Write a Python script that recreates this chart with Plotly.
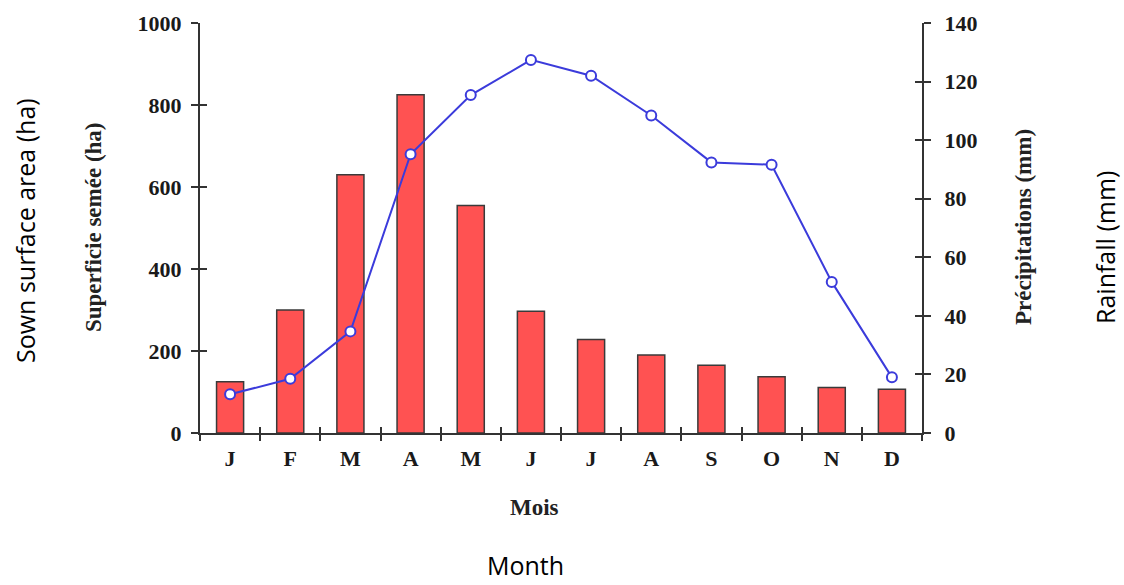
import plotly.graph_objects as go

# Monthly data
months = ["J", "F", "M", "A", "M", "J", "J", "A", "S", "O", "N", "D"]
sown_area_ha = [125, 300, 630, 825, 555, 297, 228, 190, 165, 137, 111, 107]
rainfall_mm = [13.2, 18.5, 34.7, 95.2, 115.4, 127.4, 122.0, 108.4, 92.4, 91.6, 51.6, 19.0]

left_ticks = [0, 200, 400, 600, 800, 1000]
right_ticks = [0, 20, 40, 60, 80, 100, 120, 140]

idx = list(range(len(months)))
boundaries = [i - 0.5 for i in range(len(months) + 1)]

W, H = 1124, 585
L, R, T, B = 200, 202, 23, 152
pw, ph = W - L - R, H - T - B


def px(xp):
    return (xp - L) / pw


def py(yp):
    return (H - B - yp) / ph


serif = "Liberation Serif"
axis_col = "#333333"
tick_font = dict(family=serif, size=22, color="#1a1a1a", weight="bold")

fig = go.Figure()

fig.add_trace(go.Bar(
    x=idx, y=sown_area_ha, width=0.45,
    marker=dict(color="#FF5252", line=dict(color="#3a3a3a", width=1.5)),
    xaxis="x", yaxis="y", showlegend=False,
))

fig.add_trace(go.Scatter(
    x=idx, y=rainfall_mm, mode="lines+markers",
    line=dict(color="#3B3BDB", width=2),
    marker=dict(symbol="circle", size=10, color="white",
                line=dict(color="#3B3BDB", width=2)),
    xaxis="x", yaxis="y2", showlegend=False, cliponaxis=False,
))

xr = [-0.5, len(months) - 0.5]

common_x = dict(range=xr, showgrid=False, zeroline=False, fixedrange=True)

fig.update_layout(
    width=W, height=H,
    margin=dict(l=L, r=R, t=T, b=B),
    paper_bgcolor="white", plot_bgcolor="white",
    xaxis=dict(**common_x, tickmode="array", tickvals=idx, ticktext=months,
               ticks="", showline=True, linecolor=axis_col, linewidth=2,
               tickfont=tick_font, ticklabelstandoff=5),
    xaxis2=dict(**common_x, overlaying="x", anchor="y", tickmode="array",
                tickvals=boundaries, ticks="outside", ticklen=7, tickwidth=1.5,
                tickcolor=axis_col, showticklabels=False, showline=False),
    xaxis3=dict(**common_x, overlaying="x", anchor="y", tickmode="array",
                tickvals=boundaries, ticks="inside", ticklen=6, tickwidth=1.5,
                tickcolor=axis_col, showticklabels=False, showline=False),
    yaxis=dict(range=[0, 1000], tickmode="array", tickvals=left_ticks,
               ticks="outside", ticklen=7, tickwidth=1.5, tickcolor=axis_col,
               showline=True, linecolor=axis_col, linewidth=2,
               showgrid=False, zeroline=False, tickfont=tick_font,
               ticklabelstandoff=5),
    yaxis3=dict(range=[0, 1000], overlaying="y", anchor="x", side="left",
                tickmode="array", tickvals=left_ticks, ticks="inside",
                ticklen=7, tickwidth=1.5, tickcolor=axis_col,
                showticklabels=False, showline=False, showgrid=False,
                zeroline=False),
    yaxis2=dict(range=[0, 140], overlaying="y", anchor="x", side="right",
                tickmode="array", tickvals=right_ticks, ticks="outside",
                ticklen=7, tickwidth=1.5, tickcolor=axis_col,
                showline=True, linecolor=axis_col, linewidth=2,
                showgrid=False, zeroline=False, tickfont=tick_font,
                ticklabelstandoff=9),
    yaxis4=dict(range=[0, 140], overlaying="y", anchor="x", side="right",
                tickmode="array", tickvals=right_ticks, ticks="inside",
                ticklen=7, tickwidth=1.5, tickcolor=axis_col,
                showticklabels=False, showline=False, showgrid=False,
                zeroline=False),
)

# invisible carriers so the overlay axes are drawn
for xa, ya in [("x2", "y"), ("x3", "y"), ("x", "y3"), ("x", "y4")]:
    fig.add_trace(go.Scatter(x=[None], y=[None], xaxis=xa, yaxis=ya,
                             showlegend=False, hoverinfo="skip"))

title_font = dict(family=serif, size=23, color="#222222", weight="bold")
plain_font = dict(family="Open Sans", size=25, color="black")

annotations = [
    dict(text="Superficie semée (ha)", x=px(93), y=py(227),
         textangle=-90, font=title_font),
    dict(text="Précipitations (mm)", x=px(1023), y=py(227),
         textangle=-90, font=title_font),
    dict(text="Mois", x=px(534), y=py(507), font=title_font),
    dict(text="Month", x=px(525), y=py(565), font=plain_font),
    dict(text="Sown surface area (ha)", x=px(25), y=py(231),
         textangle=-90, font=plain_font),
    dict(text="Rainfall (mm)", x=px(1105), y=py(248),
         textangle=-90, font=plain_font),
]
for a in annotations:
    a.update(xref="paper", yref="paper", showarrow=False,
             xanchor="center", yanchor="middle", borderpad=0)
fig.update_layout(annotations=annotations)

fig.write_html("out.html")
